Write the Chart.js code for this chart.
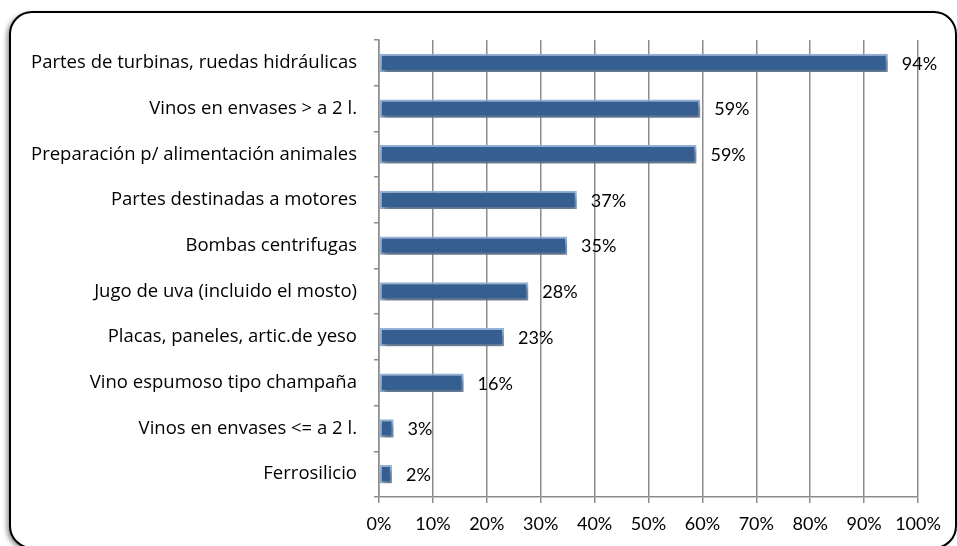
<!DOCTYPE html>
<html>
<head>
<meta charset="utf-8">
<script src="https://cdn.jsdelivr.net/npm/chart.js@4.4.1/dist/chart.umd.min.js"></script>
<style>
  html, body { margin: 0; padding: 0; background: #fff; }
  #wrap { width: 957px; height: 546px; position: relative; }
</style>
</head>
<body>
<div id="wrap"><canvas id="grafico"></canvas></div>
<script>
const categorias = [
  "Partes de turbinas, ruedas hidráulicas",
  "Vinos en envases > a 2 l.",
  "Preparación p/ alimentación animales",
  "Partes destinadas a motores",
  "Bombas centrifugas",
  "Jugo de uva (incluido el mosto)",
  "Placas, paneles, artic.de yeso",
  "Vino espumoso tipo champaña",
  "Vinos en envases <= a 2 l.",
  "Ferrosilicio"
];
const valores = [94.4, 59.6, 58.9, 36.7, 34.9, 27.7, 23.2, 15.7, 2.7, 2.4];
const etiquetas = ["94%", "59%", "59%", "37%", "35%", "28%", "23%", "16%", "3%", "2%"];
const ticksX = [0, 10, 20, 30, 40, 50, 60, 70, 80, 90, 100];

const fuenteCat = "'Open Sans', sans-serif";
const fuenteNum = "Lato, 'Open Sans', sans-serif";

// marco redondeado con sombra
const marco = {
  id: "marco",
  beforeDraw(chart) {
    const ctx = chart.ctx;
    ctx.save();
    ctx.fillStyle = "#fff";
    ctx.fillRect(0, 0, chart.width, chart.height);
    ctx.shadowColor = "rgba(0,0,0,0.45)";
    ctx.shadowBlur = 5;
    ctx.shadowOffsetX = -3;
    ctx.shadowOffsetY = 2;
    ctx.beginPath();
    ctx.roundRect(10, 12, 946, 536, 22);
    ctx.fillStyle = "#fff";
    ctx.fill();
    ctx.shadowColor = "transparent";
    ctx.lineWidth = 2;
    ctx.strokeStyle = "#000";
    ctx.stroke();
    ctx.restore();
  }
};

const sombraBarras = {
  id: "sombraBarras",
  beforeDatasetDraw(chart) {
    const ctx = chart.ctx;
    ctx.save();
    ctx.shadowColor = "rgba(0,0,0,0.4)";
    ctx.shadowBlur = 5;
    ctx.shadowOffsetX = 2;
    ctx.shadowOffsetY = 4;
  },
  afterDatasetDraw(chart) {
    chart.ctx.restore();
  }
};

const rotulos = {
  id: "rotulos",
  afterDatasetsDraw(chart) {
    const ctx = chart.ctx;
    const meta = chart.getDatasetMeta(0);
    ctx.save();
    ctx.font = "18px " + fuenteNum;
    ctx.fillStyle = "#000";
    ctx.textAlign = "left";
    ctx.textBaseline = "middle";
    meta.data.forEach((barra, i) => {
      ctx.fillText(etiquetas[i], barra.x + 14, barra.y + 1);
    });
    ctx.restore();
  }
};

new Chart(document.getElementById("grafico").getContext("2d"), {
  type: "bar",
  data: {
    labels: categorias,
    datasets: [{
      data: valores,
      backgroundColor: "#365f91",
      borderColor: "#95b3d7",
      borderWidth: 2,
      borderSkipped: false,
      barPercentage: 0.4,
      categoryPercentage: 1
    }]
  },
  options: {
    indexAxis: "y",
    responsive: true,
    maintainAspectRatio: false,
    animation: false,
    layout: { padding: { top: 40, right: 39, left: 0, bottom: 0 } },
    plugins: {
      legend: { display: false },
      tooltip: { enabled: false }
    },
    scales: {
      x: {
        min: 0,
        max: 100,
        afterBuildTicks: axis => { axis.ticks = ticksX.map(v => ({ value: v })); },
        afterFit: axis => { axis.height = 49; },
        grid: { color: "#8c8c8c", lineWidth: 1.5, tickLength: 6 },
        border: { color: "#8c8c8c", width: 1.5 },
        ticks: {
          color: "#000",
          font: { family: fuenteNum, size: 18 },
          padding: 10,
          maxRotation: 0,
          callback: v => v + "%"
        }
      },
      y: {
        afterFit: axis => { axis.width = 379; },
        grid: { drawOnChartArea: false, color: "#8c8c8c", lineWidth: 1.5, tickLength: 5, offset: true },
        border: { color: "#8c8c8c", width: 1.5 },
        ticks: {
          color: "#000",
          font: { family: fuenteCat, size: 18.5 },
          padding: 17,
          autoSkip: false
        }
      }
    }
  },
  plugins: [marco, sombraBarras, rotulos]
});
</script>
</body>
</html>
